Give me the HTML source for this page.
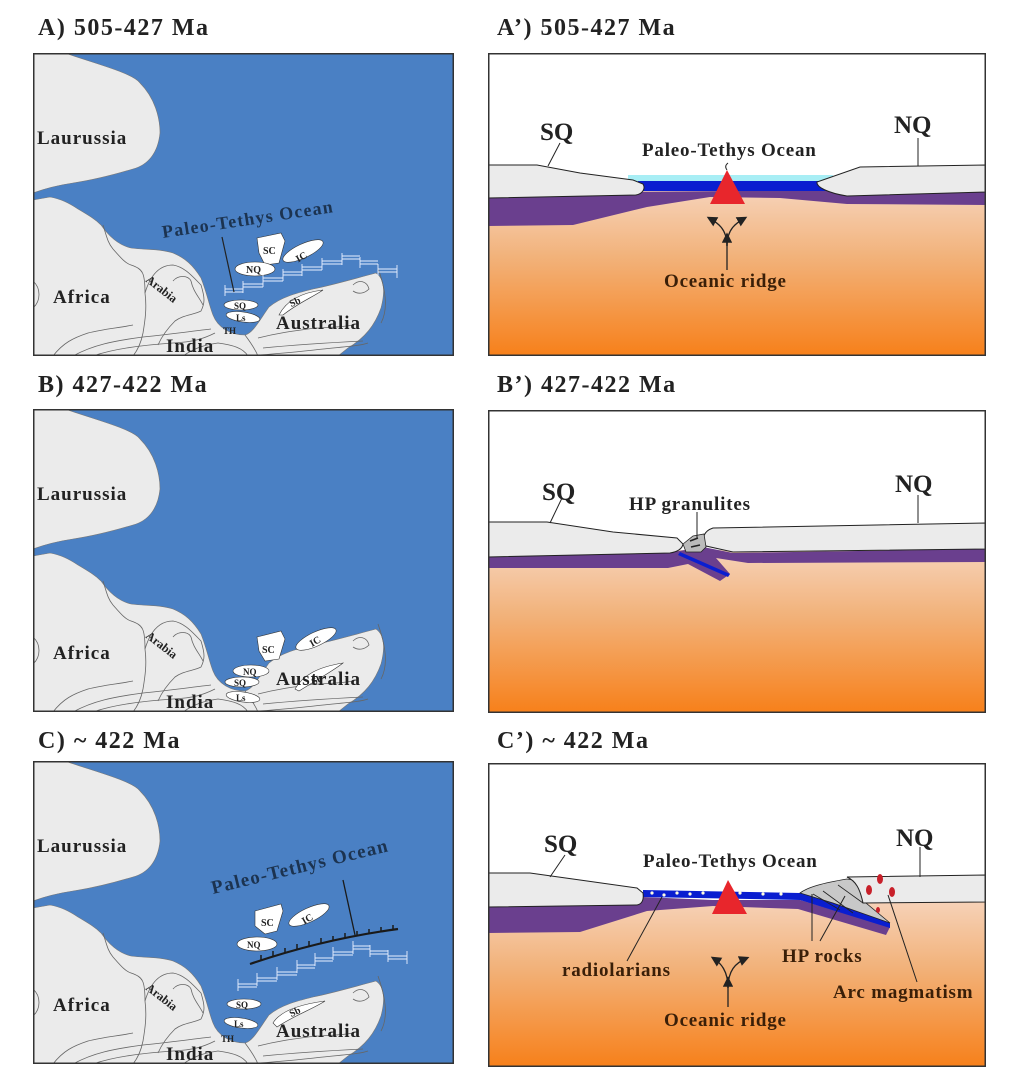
<!DOCTYPE html>
<html><head><meta charset="utf-8"><style>
html,body{margin:0;padding:0;background:#fff;}
body{width:1013px;height:1085px;position:relative;overflow:hidden;font-family:"Liberation Serif",serif;}
.t{position:absolute;font-weight:bold;font-size:24px;letter-spacing:1.5px;color:#222;white-space:nowrap;}
svg{position:absolute;}
svg text{font-family:"Liberation Serif",serif;font-weight:bold;fill:#222;}
.L{font-size:19px;letter-spacing:1px;}
.R{font-size:19px;letter-spacing:0.8px;}
</style></head><body>
<div class="t" style="left:38px;top:15px">A) 505-427 Ma</div>
<div class="t" style="left:497px;top:15px">A’) 505-427 Ma</div>
<div class="t" style="left:38px;top:372px">B) 427-422 Ma</div>
<div class="t" style="left:497px;top:372px">B’) 427-422 Ma</div>
<div class="t" style="left:38px;top:728px">C) ~ 422 Ma</div>
<div class="t" style="left:497px;top:728px">C’) ~ 422 Ma</div>

<svg width="0" height="0" style="position:absolute">
<defs>
<g id="mapbase">
<rect x="0" y="0" width="420" height="303" fill="#4a80c4"/>
<path d="M0,0 L32,0 C60,10 100,20 107,30 C122,45 127,65 127,80 C125,100 115,112 100,116 C80,122 60,127 40,130 C20,133 8,137 0,140 Z" fill="#ebebeb" stroke="#777" stroke-width="0.6"/>
<path d="M0,147 L17,144 C28,146 36,150 45,156 C55,162 62,166 68,172 C75,182 85,192 98,195 C115,197 128,196 140,200 C152,205 160,212 168,225 C174,240 176,252 180,262 C185,275 198,282 212,282 C220,280 226,268 236,254 C248,244 264,240 280,236 C300,232 320,226 343,220 C352,226 352,240 348,255 C342,272 332,285 315,295 L305,303 L0,303 Z" fill="#ebebeb" stroke="#777" stroke-width="0.6"/>
<g fill="none" stroke="#666" stroke-width="0.8">
<path d="M0,228 C8,235 8,248 0,255"/>
<path d="M70,172 C74,185 75,190 80,196 C88,205 92,210 98,212 C110,216 112,220 112,240"/>
<path d="M112,240 C114,255 112,268 110,280 C108,290 104,298 100,303"/>
<path d="M112,240 C118,220 128,212 140,212 C152,214 160,224 168,232 C172,245 172,250 168,258 C160,262 150,262 142,268 C132,278 128,285 125,292"/>
<path d="M140,228 C145,222 155,222 158,228 C160,238 166,244 170,252"/>
<path d="M20,303 C30,290 40,285 55,280 C70,276 85,275 100,272"/>
<path d="M40,303 C60,292 80,288 110,284 C140,281 160,278 178,276"/>
<path d="M60,303 C80,296 110,292 140,290 C160,289 170,286 182,280"/>
<path d="M150,303 C160,296 170,292 185,290 C200,292 210,295 215,303"/>
<path d="M212,282 C218,290 222,296 225,303"/>
<path d="M225,285 C245,280 260,278 275,276 C290,274 305,275 320,272"/>
<path d="M230,295 C260,292 290,290 330,288"/>
<path d="M205,303 C240,302 270,298 300,295 C320,293 330,292 335,290"/>
<path d="M320,232 C326,226 334,228 336,236 C332,240 326,242 320,238"/>
<path d="M345,215 C352,235 356,255 348,270"/>
</g>
</g>
<g id="ridgeA" fill="none" stroke="#e8f0ff" stroke-width="0.9">
<path d="M192,236 H210 M210,231 H230 M230,225 H250 M250,219 H269 M269,214 H289 M289,208 H309 M309,203 H327 M327,208 H345 M345,216 H364"/>
<path d="M192,239 H210 M210,234 H230 M230,228 H250 M250,222 H269 M269,217 H289 M289,211 H309 M309,206 H327 M327,211 H345 M345,219 H364"/>
<path d="M192,232 V243 M210,228 V240 M230,222 V234 M250,216 V228 M269,211 V223 M289,205 V217 M309,200 V212 M327,204 V215 M345,211 V223 M364,212 V225"/>
</g>
</defs>
</svg>

<!-- MAP A -->
<svg style="left:33px;top:53px" width="421" height="303" viewBox="0 0 421 303">
<use href="#mapbase"/>
<path d="M224,185 L248,180 L252,188 L246,210 L232,212 L226,200 Z" fill="#fff" stroke="#333" stroke-width="0.6"/>
<ellipse cx="270" cy="198" rx="22" ry="7" transform="rotate(-25 270 198)" fill="#fff" stroke="#333" stroke-width="0.6"/>
<ellipse cx="222" cy="216" rx="20" ry="7" fill="#fff" stroke="#333" stroke-width="0.6"/>
<ellipse cx="208" cy="252" rx="17" ry="5" fill="#fff" stroke="#333" stroke-width="0.6"/>
<ellipse cx="210" cy="264" rx="17" ry="5" transform="rotate(8 210 264)" fill="#fff" stroke="#333" stroke-width="0.6"/>
<path d="M246,262 C252,250 265,240 290,237 C280,244 265,250 250,262 Z" fill="#fff" stroke="#333" stroke-width="0.6"/>
<use href="#ridgeA"/>
<line x1="189" y1="184" x2="201" y2="239" stroke="#222" stroke-width="1.2"/>
<text x="4" y="91" class="L">Laurussia</text>
<text x="20" y="250" class="L">Africa</text>
<text x="133" y="299" class="L">India</text>
<text x="243" y="276" class="L">Australia</text>
<text x="112" y="228" font-size="12" transform="rotate(38 112 228)">Arabia</text>
<text x="230" y="201" font-size="10">SC</text>
<text x="262" y="206" font-size="10" transform="rotate(-30 270 202)">IC</text>
<text x="213" y="220" font-size="10">NQ</text>
<text x="201" y="256" font-size="9">SQ</text>
<text x="203" y="268" font-size="9">Ls</text>
<text x="190" y="281" font-size="9">TH</text>
<text x="256" y="252" font-size="10" transform="rotate(-25 262 248)">Sb</text>
<text x="130" y="185" font-size="18" letter-spacing="1.2" transform="rotate(-8.6 130 185)" style="fill:#1c3350">Paleo-Tethys Ocean</text>
<rect x="0.75" y="0.75" width="419.5" height="301.5" fill="none" stroke="#333" stroke-width="1.5"/>
</svg>

<!-- MAP B -->
<svg style="left:33px;top:409px" width="421" height="303" viewBox="0 0 421 303">
<use href="#mapbase"/>
<path d="M224,228 L248,222 L252,230 L246,250 L232,252 L226,242 Z" fill="#fff" stroke="#333" stroke-width="0.6"/>
<ellipse cx="283" cy="230" rx="22" ry="7" transform="rotate(-25 283 230)" fill="#fff" stroke="#333" stroke-width="0.6"/>
<ellipse cx="218" cy="262" rx="18" ry="6" fill="#fff" stroke="#333" stroke-width="0.6"/>
<ellipse cx="209" cy="273" rx="17" ry="5" fill="#fff" stroke="#333" stroke-width="0.6"/>
<ellipse cx="210" cy="288" rx="17" ry="5" transform="rotate(8 210 288)" fill="#fff" stroke="#333" stroke-width="0.6"/>
<path d="M262,280 C270,266 285,258 310,254 C300,262 285,270 266,282 Z" fill="#fff" stroke="#333" stroke-width="0.6"/>
<text x="4" y="91" class="L">Laurussia</text>
<text x="20" y="250" class="L">Africa</text>
<text x="133" y="299" class="L">India</text>
<text x="243" y="276" class="L">Australia</text>
<text x="112" y="228" font-size="12" transform="rotate(38 112 228)">Arabia</text>
<text x="229" y="244" font-size="10">SC</text>
<text x="276" y="235" font-size="10" transform="rotate(-30 283 231)">IC</text>
<text x="210" y="266" font-size="9">NQ</text>
<text x="201" y="277" font-size="9">SQ</text>
<text x="203" y="292" font-size="9">Ls</text>
<text x="278" y="274" font-size="10" transform="rotate(-25 284 270)">Sb</text>
<rect x="0.75" y="0.75" width="419.5" height="301.5" fill="none" stroke="#333" stroke-width="1.5"/>
</svg>

<!-- MAP C -->
<svg style="left:33px;top:761px" width="421" height="303" viewBox="0 0 421 303">
<use href="#mapbase"/>
<path d="M222,150 L248,143 L250,150 L244,170 L232,173 L222,165 Z" fill="#fff" stroke="#333" stroke-width="0.6"/>
<ellipse cx="276" cy="154" rx="22" ry="7" transform="rotate(-25 276 154)" fill="#fff" stroke="#333" stroke-width="0.6"/>
<ellipse cx="224" cy="183" rx="20" ry="7" fill="#fff" stroke="#333" stroke-width="0.6"/>
<ellipse cx="211" cy="243" rx="17" ry="5" fill="#fff" stroke="#333" stroke-width="0.6"/>
<ellipse cx="208" cy="262" rx="17" ry="5" transform="rotate(8 208 262)" fill="#fff" stroke="#333" stroke-width="0.6"/>
<path d="M240,262 C246,252 262,244 292,240 C280,248 262,254 244,266 Z" fill="#fff" stroke="#333" stroke-width="0.6"/>
<g fill="none" stroke="#e8f0ff" stroke-width="0.9">
<path d="M205,223 H224 M224,217 H244 M244,211 H264 M264,204 H282 M282,197 H300 M300,191 H320 M320,185 H337 M337,190 H355 M355,195 H374"/>
<path d="M205,226 H224 M224,220 H244 M244,214 H264 M264,207 H282 M282,200 H300 M300,194 H320 M320,188 H337 M337,193 H355 M355,198 H374"/>
<path d="M205,218 V230 M224,212 V225 M244,206 V219 M264,199 V212 M282,192 V205 M300,186 V199 M320,180 V193 M337,184 V196 M355,189 V201 M374,190 V203"/>
</g>
<path d="M217,203 Q290,178 365,168" fill="none" stroke="#1a1a1a" stroke-width="2.2"/>
<g stroke="#1a1a1a" stroke-width="1.5">
<line x1="228" y1="199" x2="228" y2="194"/><line x1="240" y1="195" x2="240" y2="190"/><line x1="252" y1="192" x2="252" y2="187"/><line x1="264" y1="188" x2="264" y2="183"/><line x1="276" y1="185" x2="276" y2="180"/><line x1="288" y1="182" x2="288" y2="177"/><line x1="300" y1="180" x2="300" y2="175"/><line x1="312" y1="177" x2="312" y2="172"/><line x1="324" y1="175" x2="324" y2="170"/><line x1="336" y1="173" x2="336" y2="168"/><line x1="348" y1="171" x2="348" y2="166"/><line x1="360" y1="169" x2="360" y2="164"/>
</g>
<line x1="310" y1="119" x2="322" y2="174" stroke="#1a1a1a" stroke-width="1.3"/>
<text x="4" y="91" class="L">Laurussia</text>
<text x="20" y="250" class="L">Africa</text>
<text x="133" y="299" class="L">India</text>
<text x="243" y="276" class="L">Australia</text>
<text x="112" y="228" font-size="12" transform="rotate(38 112 228)">Arabia</text>
<text x="228" y="165" font-size="10">SC</text>
<text x="268" y="160" font-size="10" transform="rotate(-30 276 156)">IC</text>
<text x="214" y="187" font-size="9">NQ</text>
<text x="203" y="247" font-size="9">SQ</text>
<text x="201" y="266" font-size="9">Ls</text>
<text x="188" y="281" font-size="9">TH</text>
<text x="256" y="254" font-size="10" transform="rotate(-25 262 250)">Sb</text>
<text x="180" y="133" font-size="19" letter-spacing="1.2" transform="rotate(-13.7 180 133)" style="fill:#1c3350">Paleo-Tethys Ocean</text>
<rect x="0.75" y="0.75" width="419.5" height="301.5" fill="none" stroke="#333" stroke-width="1.5"/>
</svg>

<svg width="0" height="0" style="position:absolute"><defs>
<linearGradient id="mg" x1="0" y1="0" x2="0" y2="1">
<stop offset="0" stop-color="#f6d2b8"/><stop offset="0.4" stop-color="#f2b27a"/><stop offset="1" stop-color="#f7801a"/>
</linearGradient>
<marker id="ah" markerWidth="8" markerHeight="8" refX="6" refY="4" orient="auto"><path d="M0,0 L8,4 L0,8 Z" fill="#222"/></marker>
</defs></svg>

<!-- A' -->
<svg style="left:488px;top:53px" width="498" height="303" viewBox="0 0 498 303">
<rect x="0" y="0" width="498" height="303" fill="#fff"/>
<rect x="0" y="138" width="498" height="165" fill="url(#mg)"/>
<path d="M0,140 L498,136 L498,152 L359,151 L292,145 L222,144 L159,154 L85,172 L0,173 Z" fill="#6a3f8e"/>
<path d="M140,122 L345,122 L345,130 L140,130 Z" fill="#a8eef5"/>
<path d="M150,128 L340,128 L340,138 L150,138 Z" fill="#0a1ed0"/>
<path d="M0,112 L49,112 L92,120 L145,127 L155,131 C158,136 154,141 148,142 L0,145 Z" fill="#ebebeb" stroke="#222" stroke-width="1"/>
<path d="M498,112 L372,114 L329,129 C328,134 340,140 359,143 L498,139 Z" fill="#ebebeb" stroke="#222" stroke-width="1"/>
<path d="M222,151 L257,151 L239,117 Z" fill="#e8262c"/>
<path d="M239,117 q-3,-4 1,-7" fill="none" stroke="#222" stroke-width="1"/>
<path d="M239,217 L239,182" stroke="#222" stroke-width="1.3" marker-end="url(#ah)"/>
<path d="M239,193 C239,176 230,170 221,165" fill="none" stroke="#222" stroke-width="1.3" marker-end="url(#ah)"/>
<path d="M239,193 C239,176 248,170 257,165" fill="none" stroke="#222" stroke-width="1.3" marker-end="url(#ah)"/>
<line x1="72" y1="90" x2="60" y2="113" stroke="#222" stroke-width="1"/>
<line x1="430" y1="85" x2="430" y2="113" stroke="#222" stroke-width="1"/>
<text x="52" y="87" font-size="25">SQ</text>
<text x="406" y="80" font-size="25">NQ</text>
<text x="154" y="103" class="R">Paleo-Tethys Ocean</text>
<text x="176" y="234" class="R" style="fill:#3a1f08">Oceanic ridge</text>
<rect x="0.75" y="0.75" width="496.5" height="301.5" fill="none" stroke="#333" stroke-width="1.5"/>
</svg>

<!-- B' -->
<svg style="left:488px;top:410px" width="498" height="303" viewBox="0 0 498 303">
<rect x="0" y="0" width="498" height="303" fill="#fff"/>
<rect x="0" y="140" width="498" height="163" fill="url(#mg)"/>
<path d="M0,146 L185,142 L215,137 L245,143 L498,139 L498,152 L260,153 L228,148 L242,164 L232,171 L200,154 L180,158 L0,158 Z" fill="#6a3f8e"/>
<path d="M192,142 L242,164 L240,167 L190,145 Z" fill="#0a1ed0"/>
<path d="M0,112 L59,112 L125,122 L189,128 L195,134 C194,140 188,142 182,143 L0,147 Z" fill="#ebebeb" stroke="#222" stroke-width="1"/>
<path d="M498,113 L225,118 C216,121 213,128 218,136 L245,142 L498,139 Z" fill="#ebebeb" stroke="#222" stroke-width="1"/>
<path d="M195,134 L205,126 L216,124 L218,137 L213,142 L198,142 Z" fill="#bbb" stroke="#222" stroke-width="0.8"/>
<path d="M202,131 L210,128 M203,137 L212,135" stroke="#222" stroke-width="1.5"/>
<line x1="74" y1="88" x2="62" y2="113" stroke="#222" stroke-width="1"/>
<line x1="430" y1="85" x2="430" y2="113" stroke="#222" stroke-width="1"/>
<line x1="209" y1="102" x2="209" y2="128" stroke="#222" stroke-width="1"/>
<text x="54" y="90" font-size="25">SQ</text>
<text x="407" y="82" font-size="25">NQ</text>
<text x="141" y="100" class="R">HP granulites</text>
<rect x="0.75" y="0.75" width="496.5" height="301.5" fill="none" stroke="#333" stroke-width="1.5"/>
</svg>

<!-- C' -->
<svg style="left:488px;top:763px" width="498" height="304" viewBox="0 0 498 304">
<rect x="0" y="0" width="498" height="304" fill="#fff"/>
<rect x="0" y="138" width="498" height="166" fill="url(#mg)"/>
<path d="M0,143 L155,134 L225,137 L312,137 L402,164 L398,172 L310,146 L225,143 L159,148 L92,169 L0,170 Z" fill="#6a3f8e"/>
<path d="M155,127 L312,130 L345,140 L402,160 L402,165 L312,137 L155,134 Z" fill="#0a1ed0"/>
<path d="M0,110 L42,110 L92,117 L149,125 L155,130 C156,137 154,141 149,142 L0,144 Z" fill="#ebebeb" stroke="#222" stroke-width="1"/>
<path d="M312,130 C320,124 335,120 359,116 L372,118 L378,140 L402,160 L345,140 Z" fill="#c8c8c8" stroke="#222" stroke-width="0.8"/>
<path d="M325,131 L352,147 M335,128 L365,150 M350,122 L375,140" stroke="#222" stroke-width="0.8"/>
<path d="M498,112 L359,114 C368,118 372,126 375,140 L498,139 Z" fill="#ebebeb" stroke="#222" stroke-width="1"/>
<g fill="#fffde0">
<circle cx="164" cy="130" r="1.6"/><circle cx="176" cy="132" r="1.6"/><circle cx="189" cy="130" r="1.6"/><circle cx="202" cy="131" r="1.6"/><circle cx="215" cy="130" r="1.6"/><circle cx="252" cy="130" r="1.6"/><circle cx="275" cy="131" r="1.6"/><circle cx="293" cy="131" r="1.6"/>
</g>
<path d="M224,151 L259,151 L240,117 Z" fill="#e8262c"/>
<g fill="#c8202a">
<ellipse cx="392" cy="116" rx="3" ry="5"/><ellipse cx="381" cy="127" rx="3" ry="5"/><ellipse cx="404" cy="129" rx="3" ry="5"/><ellipse cx="390" cy="147" rx="2" ry="3"/>
</g>
<path d="M240,244 L240,216" stroke="#222" stroke-width="1.3" marker-end="url(#ah)"/>
<path d="M240,225 C240,208 233,200 225,195" fill="none" stroke="#222" stroke-width="1.3" marker-end="url(#ah)"/>
<path d="M240,225 C240,208 247,200 259,195" fill="none" stroke="#222" stroke-width="1.3" marker-end="url(#ah)"/>
<line x1="77" y1="92" x2="62" y2="114" stroke="#222" stroke-width="1"/>
<line x1="432" y1="84" x2="432" y2="114" stroke="#222" stroke-width="1"/>
<line x1="139" y1="198" x2="174" y2="134" stroke="#222" stroke-width="1"/>
<line x1="324" y1="178" x2="324" y2="131" stroke="#222" stroke-width="1"/>
<line x1="332" y1="178" x2="357" y2="133" stroke="#222" stroke-width="1"/>
<line x1="429" y1="219" x2="400" y2="132" stroke="#222" stroke-width="1"/>
<text x="56" y="89" font-size="25">SQ</text>
<text x="408" y="83" font-size="25">NQ</text>
<text x="155" y="104" class="R">Paleo-Tethys Ocean</text>
<text x="74" y="213" class="R" style="fill:#3a1f08">radiolarians</text>
<text x="294" y="199" class="R" style="fill:#3a1f08">HP rocks</text>
<text x="345" y="235" class="R" style="fill:#3a1f08">Arc magmatism</text>
<text x="176" y="263" class="R" style="fill:#3a1f08">Oceanic ridge</text>
<rect x="0.75" y="0.75" width="496.5" height="302.5" fill="none" stroke="#333" stroke-width="1.5"/>
</svg>
</body></html>
